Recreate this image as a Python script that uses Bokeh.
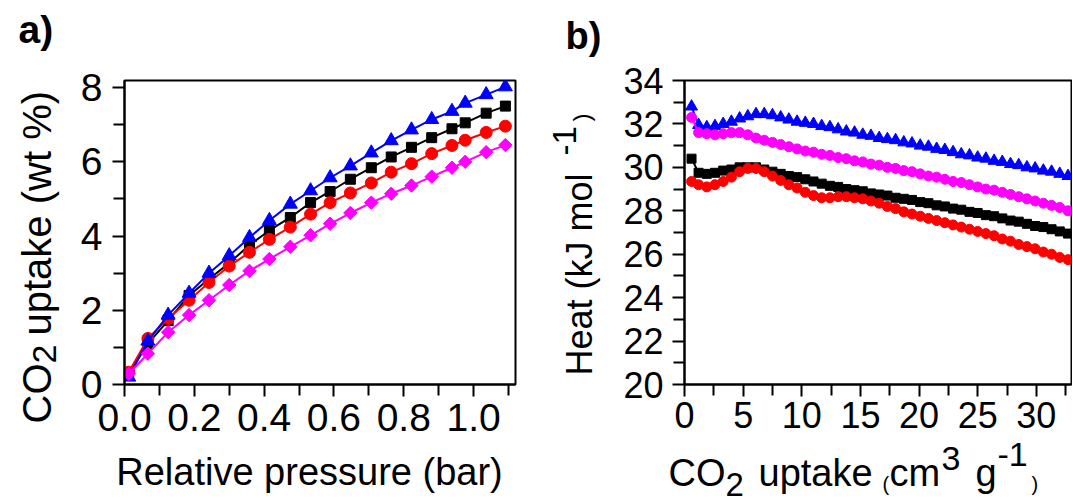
import numpy as np
from bokeh.plotting import figure
from bokeh.models import FixedTicker, Range1d, PrintfTickFormatter
from bokeh.layouts import row, column
from bokeh.core.properties import value
from bokeh.embed import file_html
from bokeh.resources import INLINE

FONT = "Liberation Sans"

# ---------------- Panel a data ----------------
p_rel = [0.012, 0.067, 0.125, 0.185, 0.242, 0.300, 0.358, 0.415, 0.475, 0.533,
         0.589, 0.647, 0.707, 0.764, 0.822, 0.880, 0.938, 0.976, 1.036, 1.091]
a_blue = [0.20, 1.17, 1.87, 2.46, 3.00, 3.47, 3.96, 4.42, 4.86, 5.22,
          5.57, 5.89, 6.24, 6.57, 6.86, 7.14, 7.36, 7.58, 7.81, 8.02]
a_black = [0.30, 1.10, 1.72, 2.40, 2.84, 3.27, 3.76, 4.15, 4.50, 4.90,
           5.20, 5.53, 5.84, 6.13, 6.39, 6.65, 6.89, 7.05, 7.31, 7.50]
a_red = [0.33, 1.24, 1.78, 2.27, 2.75, 3.19, 3.56, 3.91, 4.24, 4.59,
         4.90, 5.16, 5.43, 5.72, 5.95, 6.22, 6.44, 6.58, 6.79, 6.96]
a_magenta = [0.29, 0.83, 1.41, 1.87, 2.27, 2.68, 3.06, 3.38, 3.71, 4.02,
             4.33, 4.62, 4.90, 5.14, 5.36, 5.60, 5.84, 6.00, 6.26, 6.45]

a_xticks = [0.0, 0.2, 0.4, 0.6, 0.8, 1.0]
a_xminor = [0.1, 0.3, 0.5, 0.7, 0.9, 1.1]
a_yticks = [0, 2, 4, 6, 8]
a_yminor = [1, 3, 5, 7]

# ---------------- Panel b data ----------------
uptake = [0.6, 1.2, 1.9, 2.6, 3.3, 4.0, 4.7, 5.4, 6.1, 6.8, 7.5, 8.2, 8.9, 9.6,
          10.3, 11.0, 11.7, 12.4, 13.1, 13.8, 14.5, 15.2, 15.9, 16.6, 17.3, 18.0,
          18.7, 19.4, 20.1, 20.8, 21.5, 22.2, 22.9, 23.6, 24.3, 25.0, 25.7, 26.4,
          27.1, 27.8, 28.5, 29.2, 29.9, 30.6, 31.3, 32.0, 32.7]
b_blue = [32.8, 31.95, 31.85, 31.9, 32.0, 32.1, 32.25, 32.35, 32.45, 32.45,
          32.4, 32.3, 32.2, 32.1, 32.05, 32.0, 31.9, 31.85, 31.75, 31.65,
          31.6, 31.5, 31.45, 31.35, 31.3, 31.25, 31.15, 31.1, 31.0, 30.95,
          30.85, 30.8, 30.7, 30.6, 30.55, 30.45, 30.4, 30.3, 30.25, 30.15,
          30.1, 30.0, 29.95, 29.85, 29.8, 29.7, 29.6]
b_magenta = [32.3, 31.6, 31.55, 31.5, 31.55, 31.6, 31.6, 31.5, 31.35, 31.25,
             31.15, 31.05, 30.95, 30.85, 30.75, 30.7, 30.6, 30.55, 30.45, 30.4,
             30.3, 30.25, 30.15, 30.1, 30.0, 29.95, 29.85, 29.8, 29.7, 29.6,
             29.55, 29.45, 29.35, 29.3, 29.2, 29.1, 29.0, 28.95, 28.85, 28.75,
             28.65, 28.55, 28.45, 28.35, 28.25, 28.15, 28.0]
b_black = [30.4, 29.75, 29.7, 29.75, 29.85, 29.9, 30.0, 30.0, 30.0, 29.9,
           29.8, 29.7, 29.6, 29.55, 29.45, 29.35, 29.25, 29.15, 29.1, 29.0,
           28.95, 28.9, 28.8, 28.75, 28.7, 28.6, 28.55, 28.5, 28.4, 28.35,
           28.25, 28.2, 28.1, 28.05, 27.95, 27.9, 27.8, 27.75, 27.65, 27.55,
           27.5, 27.4, 27.3, 27.25, 27.15, 27.05, 26.95]
b_red = [29.35, 29.2, 29.1, 29.2, 29.35, 29.55, 29.8, 29.95, 29.95, 29.8,
         29.6, 29.4, 29.2, 29.05, 28.85, 28.7, 28.6, 28.6, 28.65, 28.65,
         28.6, 28.55, 28.45, 28.35, 28.2, 28.1, 27.95, 27.85, 27.75, 27.65,
         27.55, 27.45, 27.35, 27.25, 27.15, 27.05, 26.95, 26.85, 26.7, 26.6,
         26.45, 26.35, 26.25, 26.1, 26.0, 25.85, 25.75]

b_xticks = [0, 5, 10, 15, 20, 25, 30]
b_xminor = [2.5, 7.5, 12.5, 17.5, 22.5, 27.5, 32.5]
b_yticks = [20, 22, 24, 26, 28, 30, 32, 34]
b_yminor = [21, 23, 25, 27, 29, 31, 33]

BLUE, BLACK, RED, MAGENTA = "#0000ff", "#000000", "#ff0000", "#ff00ff"
H = 504


def style_axes(p, tick_size, xstand, ystand):
    for ax in (p.xaxis[0], p.yaxis[0]):
        ax.axis_line_width = 2
        ax.axis_line_color = "black"
        ax.major_tick_line_width = 2
        ax.minor_tick_line_width = 2
        ax.major_tick_out = 12
        ax.major_tick_in = 0
        ax.minor_tick_out = 11
        ax.minor_tick_in = 0
        ax.major_label_text_font = FONT
        ax.major_label_text_font_size = tick_size
        ax.major_label_text_color = "black"
        ax.axis_label = None
    p.xaxis[0].major_label_standoff = xstand
    p.yaxis[0].major_label_standoff = ystand
    p.xgrid.visible = False
    p.ygrid.visible = False
    p.outline_line_color = "black"
    p.outline_line_width = 2
    p.outline_line_alpha = 1.0
    p.background_fill_color = "white"
    p.border_fill_color = "white"


# ---------------- Figure a ----------------
pa = figure(width=548, height=H, output_backend="svg", toolbar_location=None,
            x_range=Range1d(0, 1.12), y_range=Range1d(0, 8.19),
            min_border_left=124, min_border_right=33, min_border_top=80,
            min_border_bottom=H - 80 - 312)
style_axes(pa, "39px", 7, 10)
pa.xaxis[0].ticker = FixedTicker(ticks=a_xticks, minor_ticks=a_xminor)
pa.xaxis[0].formatter = PrintfTickFormatter(format="%.1f")
pa.yaxis[0].ticker = FixedTicker(ticks=a_yticks, minor_ticks=a_yminor)

pa.line(p_rel, a_black, line_color=BLACK, line_width=2)
pa.scatter(p_rel, a_black, marker="square", size=10, color=BLACK)
pa.line(p_rel, a_red, line_color=RED, line_width=2)
pa.scatter(p_rel, a_red, marker="circle", size=12, color=RED)
pa.line(p_rel, a_blue, line_color=BLUE, line_width=2)
pa.scatter(p_rel, a_blue, marker="triangle", size=14, color=BLUE)
pa.line(p_rel, a_magenta, line_color=MAGENTA, line_width=2)
pa.scatter(p_rel, a_magenta, marker="square", angle=np.pi / 4, size=9.5, color=MAGENTA)

# ---------------- Figure b ----------------
pb = figure(width=524, height=H, output_backend="svg", toolbar_location=None,
            x_range=Range1d(0, 33), y_range=Range1d(20, 34),
            min_border_left=136, min_border_right=1, min_border_top=76,
            min_border_bottom=H - 76 - 308)
style_axes(pb, "36px", 5, 9)
pb.xaxis[0].ticker = FixedTicker(ticks=b_xticks, minor_ticks=b_xminor)
pb.yaxis[0].ticker = FixedTicker(ticks=b_yticks, minor_ticks=b_yminor)

pb.line(uptake, b_blue, line_color=BLUE, line_width=2)
pb.scatter(uptake, b_blue, marker="triangle", size=12, color=BLUE)
pb.line(uptake, b_magenta, line_color=MAGENTA, line_width=2)
pb.scatter(uptake, b_magenta, marker="circle", size=10, color=MAGENTA)
pb.line(uptake, b_black, line_color=BLACK, line_width=2)
pb.scatter(uptake, b_black, marker="square", size=9, color=BLACK)
pb.line(uptake, b_red, line_color=RED, line_width=2)
pb.scatter(uptake, b_red, marker="circle", size=10, color=RED)

# ---------------- Text overlay (panel letters and axis titles) ----------------
W = 1072
ov = figure(width=W, height=H, output_backend="svg", toolbar_location=None,
            x_range=Range1d(0, W), y_range=Range1d(H, 0),
            x_axis_type=None, y_axis_type=None, min_border=0,
            margin=(-H, 0, 0, 0))
ov.xgrid.visible = False
ov.ygrid.visible = False
ov.outline_line_color = None
ov.background_fill_color = None
ov.border_fill_color = None


def txt(X, Y, text, size, rot=False, bold=False, align="left"):
    # (X, Y): start of the text on its baseline; compensate the renderer's
    # baseline shift (about 0.4 em towards the glyph bottom)
    d = 0.4 * size
    if rot:
        X, ang = X - d, np.pi / 2
    else:
        Y, ang = Y - d, 0.0
    ov.text(x=[X], y=[Y], text=[text], angle=ang,
            text_font=value(FONT), text_font_size=value(f"{size}px"),
            text_font_style="bold" if bold else "normal",
            text_color="black", text_align=align, text_baseline="alphabetic")


# panel a
txt(18, 45, "a)", 39, bold=True)
txt(309, 487, "Relative pressure (bar)", 38, align="center")
txt(52, 423, "CO", 40, rot=True)
txt(58, 363, "2", 34, rot=True)
txt(52, 335, "uptake (wt %)", 40, rot=True)
# panel b
txt(565, 51, "b)", 38, bold=True)
txt(668, 488, "CO", 38)
txt(725, 497, "2", 33)
txt(758, 488, "uptake", 38)
txt(882, 491, "(", 20)
txt(889, 488, "cm", 38)
txt(941, 472, "3", 34)
txt(975, 488, "g", 38)
txt(997, 468, "-1", 34)
txt(1031, 491, ")", 20)
txt(593, 375, "Heat (kJ mol", 36, rot=True)
txt(577, 155, "-1", 33, rot=True)
txt(591, 121, ")", 24, rot=True)

layout = column(row(pa, pb), ov)
open("out.html", "w").write(file_html(layout, INLINE))
